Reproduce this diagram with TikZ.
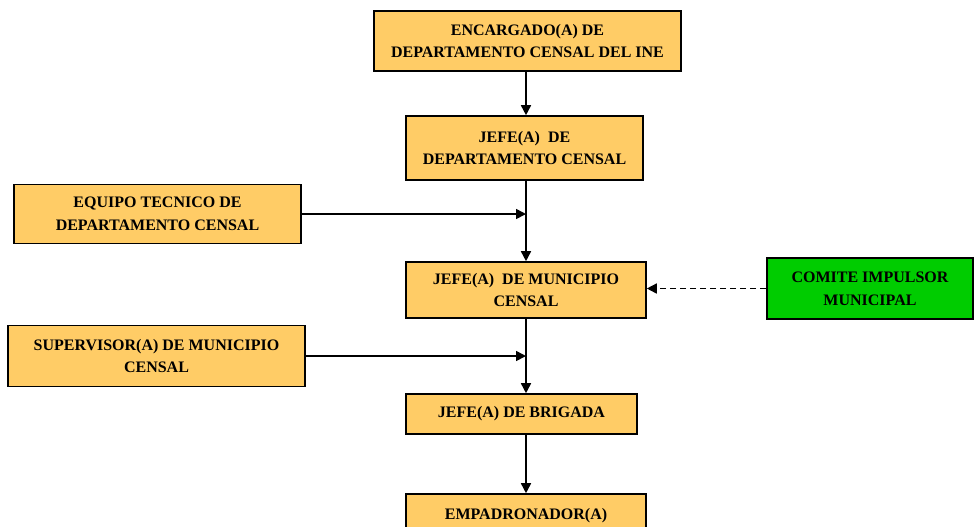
\documentclass[tikz,border=0pt]{standalone}
\usepackage{fontspec}
\setmainfont{Liberation Serif}
\usepackage{xcolor}
\usetikzlibrary{arrows.meta}

\definecolor{cajaNaranja}{RGB}{255,204,102}
\definecolor{cajaVerde}{RGB}{0,204,0}

\tikzset{
  caja/.style={draw=black, line width=1.2pt, fill=cajaNaranja, align=center,
    inner sep=0pt, font=\fontsize{12}{17}\selectfont\bfseries},
  flecha/.style={line width=1.2pt, -{Triangle[length=7.5pt,width=7.5pt]}},
}

\begin{document}
\begin{tikzpicture}[x=0.75pt,y=0.75pt,yscale=-1,xscale=1]
%set diagram to the page size
\clip (0,0) rectangle (974,526);
\fill[white] (0,0) rectangle (974,526);

%Shape: Rectangle [encargado]
\node [caja, minimum width=230.25pt, minimum height=45pt] (encargado) at (527.5,41) {ENCARGADO(A) DE\\DEPARTAMENTO CENSAL DEL INE};
%Shape: Rectangle [jefe departamento]
\node [caja, minimum width=177.75pt, minimum height=48pt] (jefeDep) at (524.5,148) {JEFE(A)\ \ DE\\DEPARTAMENTO CENSAL};
%Shape: Rectangle [equipo tecnico]
\node [caja, minimum width=215.25pt, minimum height=44.25pt] (equipo) at (157.5,214) {EQUIPO TECNICO DE\\DEPARTAMENTO CENSAL};
%Shape: Rectangle [jefe municipio]
\node [caja, minimum width=180pt, minimum height=42pt] (jefeMun) at (526,290) {JEFE(A)\ \ DE MUNICIPIO\\CENSAL};
%Shape: Rectangle [comite]
\node [caja, fill=cajaVerde, minimum width=154.5pt, minimum height=45.75pt] (comite) at (870,288.5) {COMITE IMPULSOR\\MUNICIPAL};
%Shape: Rectangle [supervisor]
\node [caja, minimum width=222.75pt, minimum height=45.75pt] (supervisor) at (156.5,356) {SUPERVISOR(A) DE MUNICIPIO\\CENSAL};
%Shape: Rectangle [brigada]
\node [caja, minimum width=173.25pt, minimum height=30pt] (brigada) at (521.5,414) {JEFE(A) DE BRIGADA};
%Shape: Rectangle [empadronador]
\node [caja, minimum width=180pt, minimum height=30pt, text depth=0pt] (empadronador) at (526,514) {EMPADRONADOR(A)};

%Straight Lines [eje central]
\coordinate (eje) at (526,0);
\draw [flecha] (encargado.south -| eje) -- (jefeDep.north -| eje);
\draw [flecha] (jefeDep.south -| eje) -- (jefeMun.north -| eje);
\draw [flecha] (jefeMun.south -| eje) -- (brigada.north -| eje);
\draw [flecha] (brigada.south -| eje) -- (empadronador.north -| eje);

%Straight Lines [entradas laterales]
\draw [flecha] (equipo.east) -- (equipo.east -| eje);
\draw [flecha] (supervisor.east) -- (supervisor.east -| eje);
\draw [flecha, dash pattern=on 4.5pt off 3pt] (comite.west) -- (comite.west -| jefeMun.east);

\end{tikzpicture}
\end{document}
